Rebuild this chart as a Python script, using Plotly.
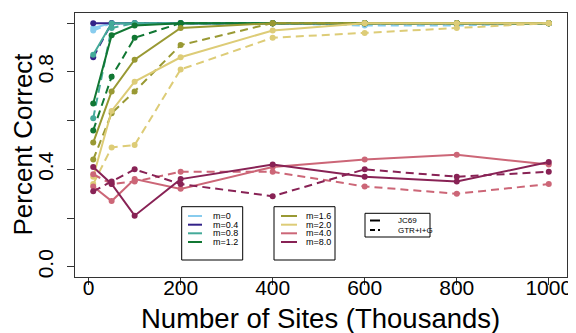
import plotly.graph_objects as go

# ---------------- data ----------------
sites = [10, 50, 100, 200, 400, 600, 800, 1000]
m_labels = ["m=0", "m=0.4", "m=0.8", "m=1.2", "m=1.6", "m=2.0", "m=4.0", "m=8.0"]
colors = ["#88CCEE", "#332288", "#44AA99", "#117733", "#999933", "#DDCC77", "#CC6677", "#882255"]
model_labels = ["JC69", "GTR+I+G"]

jc_m0 = [0.98, 1.0, 1.0, 1.0, 1.0, 1.0, 1.0, 1.0]
gtr_m0 = [0.97, 1.0, 1.0, 1.0, 1.0, 0.99, 0.99, 1.0]
jc_m04 = [1.0, 1.0, 1.0, 1.0, 1.0, 1.0, 1.0, 1.0]
gtr_m04 = [0.86, 1.0, 1.0, 1.0, 1.0, 1.0, 1.0, 1.0]
jc_m08 = [0.87, 1.0, 1.0, 1.0, 1.0, 1.0, 1.0, 1.0]
gtr_m08 = [0.61, 0.98, 1.0, 1.0, 1.0, 1.0, 1.0, 1.0]
jc_m12 = [0.67, 0.95, 0.99, 1.0, 1.0, 1.0, 1.0, 1.0]
gtr_m12 = [0.56, 0.78, 0.94, 1.0, 1.0, 1.0, 1.0, 1.0]
jc_m16 = [0.51, 0.72, 0.85, 0.98, 1.0, 1.0, 1.0, 1.0]
gtr_m16 = [0.44, 0.63, 0.72, 0.91, 1.0, 1.0, 1.0, 1.0]
jc_m20 = [0.37, 0.64, 0.76, 0.86, 0.97, 1.0, 1.0, 1.0]
gtr_m20 = [0.34, 0.49, 0.50, 0.81, 0.94, 0.96, 0.98, 1.0]
jc_m40 = [0.33, 0.27, 0.36, 0.32, 0.41, 0.44, 0.46, 0.42]
gtr_m40 = [0.38, 0.34, 0.35, 0.39, 0.39, 0.33, 0.30, 0.34]
jc_m80 = [0.41, 0.34, 0.21, 0.36, 0.42, 0.37, 0.35, 0.43]
gtr_m80 = [0.31, 0.35, 0.40, 0.34, 0.29, 0.40, 0.37, 0.39]

jc_series = [jc_m0, jc_m04, jc_m08, jc_m12, jc_m16, jc_m20, jc_m40, jc_m80]
gtr_series = [gtr_m0, gtr_m04, gtr_m08, gtr_m12, gtr_m16, gtr_m20, gtr_m40, gtr_m80]

y_tickvals = [0.0, 0.2, 0.4, 0.6, 0.8, 1.0]
y_ticktext = ["0.0", "", "0.4", "", "0.8", ""]
x_tickvals = [0, 200, 400, 600, 800, 1000]
x_title = "Number of Sites (Thousands)"
y_title = "Percent Correct"

# ---------------- figure ----------------
# the page body has an 8px default margin, so the figure is laid out in
# page pixels minus that offset
OFF = 8
W, H = 576 - OFF, 333 - OFF
ML, MR, MT, MB = 75 - OFF, 9, 13 - OFF, 56
DASH = "8px,5px"
FONT = "Liberation Sans, Arial"

fig = go.Figure()
for i in range(len(m_labels)):
    fig.add_trace(go.Scatter(x=sites, y=jc_series[i], mode="lines+markers",
                             line=dict(color=colors[i], width=2),
                             marker=dict(color=colors[i], size=6),
                             name=m_labels[i] + " " + model_labels[0], showlegend=False))
    fig.add_trace(go.Scatter(x=sites, y=gtr_series[i], mode="lines+markers",
                             line=dict(color=colors[i], width=2, dash=DASH),
                             marker=dict(color=colors[i], size=6),
                             name=m_labels[i] + " " + model_labels[1], showlegend=False))

axcol = "#333333"
fig.update_xaxes(range=[-29.6, 1039.6], tickvals=x_tickvals, ticks="outside", ticklen=7,
                 tickcolor=axcol, showline=True, linecolor=axcol, linewidth=1, mirror=True,
                 showgrid=False, zeroline=False, ticklabelstandoff=-15,
                 tickfont=dict(family=FONT, size=21, color="black"))
fig.update_yaxes(range=[-0.0416, 1.0416], tickvals=y_tickvals, ticktext=y_ticktext,
                 ticks="outside", ticklen=7, tickangle=-90, ticklabelstandoff=6,
                 tickcolor=axcol, showline=True, linecolor=axcol, linewidth=1, mirror=True,
                 showgrid=False, zeroline=False,
                 tickfont=dict(family=FONT, size=21, color="black"))

# ---------------- legends (drawn boxes) ----------------
PW, PH = W - ML - MR, H - MT - MB
def px(xp):  # page pixel -> paper
    return (xp - OFF - ML) / PW
def py(yp):
    return (H - MB - (yp - OFF)) / PH

shapes = []
annos = []

annos.append(dict(x=px(320.5), y=py(318.5), xref="paper", yref="paper", text=x_title,
                  showarrow=False, xanchor="center", yanchor="middle",
                  font=dict(family=FONT, size=27.5, color="black")))
annos.append(dict(x=px(22.5), y=py(144), xref="paper", yref="paper", text=y_title,
                  showarrow=False, xanchor="center", yanchor="middle", textangle=-90,
                  font=dict(family=FONT, size=26, color="black")))

def legend_box(x0, x1, y0, y1, rows, labels, cols, dashes, line_x0, line_x1, text_x, fs):
    shapes.append(dict(type="rect", xref="paper", yref="paper", x0=px(x0), x1=px(x1),
                       y0=py(y1), y1=py(y0), line=dict(color="black", width=1),
                       fillcolor="white", layer="above"))
    for r, lab, c, d in zip(rows, labels, cols, dashes):
        shapes.append(dict(type="line", xref="paper", yref="paper", x0=px(line_x0), x1=px(line_x1),
                           y0=py(r), y1=py(r), line=dict(color=c, width=2, dash=d), layer="above"))
        annos.append(dict(x=px(text_x), y=py(r), xref="paper", yref="paper", text=lab,
                          showarrow=False, xanchor="left", yanchor="middle",
                          font=dict(family=FONT, size=fs, color="black")))

rows4 = [216, 224.7, 233.3, 242]
legend_box(181.7, 242.7, 206.7, 260, rows4, m_labels[:4], colors[:4], ["solid"] * 4, 188, 202, 211, 9)
legend_box(274, 335, 206.7, 260, rows4, m_labels[4:], colors[4:], ["solid"] * 4, 281, 297, 304, 9)
legend_box(365, 430, 213.3, 237, [220.5, 230], model_labels, ["black", "black"], ["solid", "5px,3px"],
           370, 380, 396, 8)

fig.update_layout(width=W, height=H, margin=dict(l=ML, r=MR, t=MT, b=MB, autoexpand=False),
                  plot_bgcolor="white", paper_bgcolor="white", shapes=shapes, annotations=annos,
                  showlegend=False)

fig.write_html("out.html")
